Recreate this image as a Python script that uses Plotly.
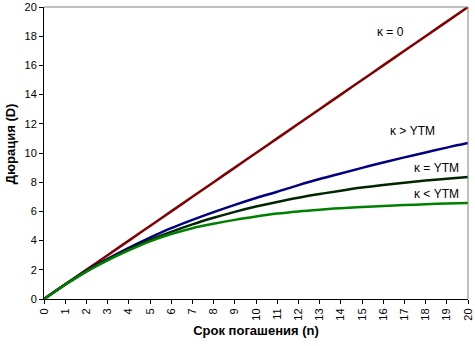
import plotly.graph_objects as go

# Maturity in years
n = list(range(0, 21))

# Duration by maturity for each coupon case
dur_k0 = [0, 1, 2, 3, 4, 5, 6, 7, 8, 9, 10, 11, 12, 13, 14, 15, 16, 17, 18, 19, 20]
dur_k_gt = [0, 0.99, 1.93, 2.75, 3.5, 4.2, 4.85, 5.42, 5.95, 6.45, 6.92, 7.35,
            7.8, 8.22, 8.6, 8.98, 9.35, 9.7, 10.04, 10.37, 10.68]
dur_k_eq = [0, 0.99, 1.89, 2.69, 3.4, 4.04, 4.6, 5.11, 5.56, 5.97, 6.33, 6.65,
            6.94, 7.19, 7.42, 7.63, 7.81, 7.97, 8.11, 8.24, 8.36]
dur_k_lt = [0, 0.98, 1.88, 2.65, 3.33, 3.95, 4.45, 4.85, 5.15, 5.42, 5.65, 5.85,
            6.0, 6.12, 6.22, 6.3, 6.37, 6.43, 6.49, 6.54, 6.58]

x_ticks = list(range(0, 21))
y_ticks = list(range(0, 21, 2))

series = [
    (dur_k0, "#800000", "κ = 0", 16.35, 18.3),
    (dur_k_gt, "#000080", "κ > YTM", 17.4, 11.5),
    (dur_k_eq, "#002600", "κ = YTM", 18.5, 9.0),
    (dur_k_lt, "#008000", "κ < YTM", 18.5, 7.2),
]

fig = go.Figure()
for ys, color, label, lx, ly in series:
    fig.add_trace(go.Scatter(x=n, y=ys, mode="lines", line=dict(color=color, width=2.5),
                             line_shape="spline", showlegend=False, hoverinfo="skip"))
    fig.add_annotation(x=lx, y=ly, text=label, showarrow=False,
                       font=dict(family="Liberation Sans, Arial", size=12, color="black"))

# Vertical axis title placed beside the tick labels
fig.add_annotation(xref="paper", yref="paper", x=-0.08, y=0.53, text="<b>Дюрация (D)</b>",
                   textangle=-90, showarrow=False, xanchor="center", yanchor="middle",
                   font=dict(family="Liberation Sans, Arial", size=13, color="black"))

# Thin grey frame on the top and right edges of the plot area
fig.add_shape(type="line", xref="paper", yref="paper", x0=0, x1=1, y0=1, y1=1,
              line=dict(color="#808080", width=1))
fig.add_shape(type="line", xref="paper", yref="paper", x0=1, x1=1, y0=0, y1=1,
              line=dict(color="#808080", width=1))

fig.update_layout(
    width=475, height=346,
    margin=dict(l=44, r=7, t=7, b=47),
    paper_bgcolor="white", plot_bgcolor="white",
    font=dict(family="Liberation Sans, Arial", size=11, color="black"),
    xaxis=dict(range=[0, 20], tickvals=x_ticks, ticktext=[str(v) for v in x_ticks],
               tickangle=-90, ticks="outside", ticklen=4, tickcolor="black",
               showline=True, linecolor="black", linewidth=1, showgrid=False,
               zeroline=False, automargin=False,
               title=dict(text="<b>Срок погашения (n)</b>", font=dict(size=13), standoff=6)),
    yaxis=dict(range=[0, 20], tickvals=y_ticks, ticktext=[str(v) for v in y_ticks],
               ticks="outside", ticklen=4, tickcolor="black",
               showline=True, linecolor="black", linewidth=1, showgrid=False,
               zeroline=False, automargin=False),
)

fig.write_html("out.html")
